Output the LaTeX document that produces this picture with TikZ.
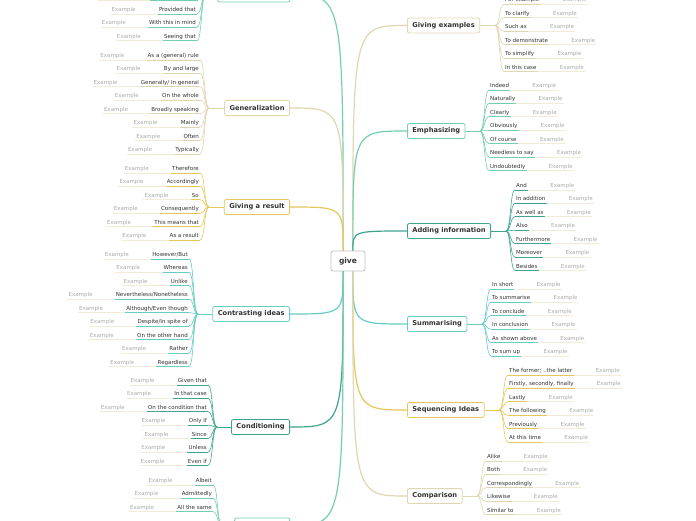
\documentclass[tikz,border=0pt]{standalone}
\usepackage{fontspec}
\setmainfont{DejaVu Sans}

\definecolor{sand}{HTML}{E0D6B2}
\definecolor{gold}{HTML}{E6C85A}
\definecolor{aqua}{HTML}{66CCC6}
\definecolor{sea}{HTML}{3FA38F}
\definecolor{mint}{HTML}{74CFAE}
\definecolor{beige}{HTML}{F2EBD8}
\definecolor{ink}{HTML}{333333}
\definecolor{hint}{HTML}{ABABAB}

% items hanging left of a branch: name, colour, right edge, first y, list
\newcommand{\leftitems}[5]{%
	\coordinate (#1-s) at (#3+9,0);
	\coordinate (#1-j) at (#1.west -| #1-s);
	\draw[twig, #2] (#1.west) -- (#1-j);
	\foreach \txt [count=\i] in {#5} {
		\node[item, anchor=east] (#1-\i) at (#3, #4+13.45*\i-13.45) {\txt};
		\node[example, anchor=east] (#1-\i-x) at ([xshift=-21pt]#1-\i.west) {Example};
		\draw[under, beige] (#1-\i.south west) -- (#1-\i-x.south west);
		\draw[under, #2] (#1-\i.south east) -- (#1-\i.south west);
		\draw[twig, #2] (#1-j) .. controls +(-5,0) and +(5,0) .. (#1-\i.south east);
	}}
% items hanging right of a branch: name, colour, left edge, first y, list
\newcommand{\rightitems}[5]{%
	\coordinate (#1-s) at (#3-9,0);
	\coordinate (#1-j) at (#1.east -| #1-s);
	\draw[twig, #2] (#1.east) -- (#1-j);
	\foreach \txt [count=\i] in {#5} {
		\node[item, anchor=west] (#1-\i) at (#3, #4+13.45*\i-13.45) {\txt};
		\node[example, anchor=west] (#1-\i-x) at ([xshift=21pt]#1-\i.east) {Example};
		\draw[under, beige] (#1-\i.south east) -- (#1-\i-x.south east);
		\draw[under, #2] (#1-\i.south west) -- (#1-\i.south east);
		\draw[twig, #2] (#1-j) .. controls +(5,0) and +(-5,0) .. (#1-\i.south west);
	}}

\begin{document}
\begin{tikzpicture}[x=1pt, y=-1pt,
	item/.style={font=\fontsize{5.5}{6}\selectfont, text=ink, inner xsep=1pt, inner ysep=1pt, text height=4pt, text depth=1.2pt},
	example/.style={item, text=hint},
	branch/.style={draw, line width=0.8pt, fill=white, rounded corners=2pt, minimum height=15pt, inner xsep=5pt, inner ysep=0pt, font=\fontsize{6.7}{8}\selectfont\bfseries, text=ink},
	trunk/.style={line width=1.2pt},
	twig/.style={line width=0.6pt},
	under/.style={line width=0.6pt}]
	\fill[white] (0,0) rectangle (696,520);
	\useasboundingbox (0,0) rectangle (696,520);
	\node[draw=black!25, line width=0.8pt, fill=white, rounded corners=2pt, minimum width=34pt, minimum height=20pt, inner sep=0pt, font=\fontsize{7.5}{9}\selectfont\bfseries, text=ink] (give) at (348,261) {give};
	% left side
	\node[branch, draw=mint, minimum width=72pt, anchor=east] (top) at (290,-5.5) {};
	\node[branch, draw=sand, anchor=east] (gen) at (290,108) {Generalization};
	\node[branch, draw=gold, anchor=east] (res) at (290,207) {Giving a result};
	\node[branch, draw=aqua, anchor=east] (con) at (290,314) {Contrasting ideas};
	\node[branch, draw=sea, anchor=east] (cond) at (290,427) {Conditioning};
	\node[branch, draw=mint, minimum width=55pt, anchor=east] (adm) at (290,525.5) {};
	% right side
	\node[branch, draw=sand, anchor=west] (exa) at (407,25.5) {Giving examples};
	\node[branch, draw=mint, anchor=west] (emp) at (407,131) {Emphasizing};
	\node[branch, draw=sea, anchor=west] (add) at (407,231) {Adding information};
	\node[branch, draw=aqua, anchor=west] (sum) at (407,324) {Summarising};
	\node[branch, draw=gold, anchor=west] (seq) at (407,410) {Sequencing Ideas};
	\node[branch, draw=sand, anchor=west] (cmp) at (407,496) {Comparison};
	% trunks
	\draw[trunk, mint] (give.115) .. controls (give.115 |- top.east) .. (top.east);
	\draw[trunk, sand] (give.115) .. controls (give.115 |- gen.east) .. (gen.east);
	\draw[trunk, gold] (give.115) .. controls (give.115 |- res.east) .. (res.east);
	\draw[trunk, aqua] (give.245) .. controls (give.245 |- con.east) .. (con.east);
	\draw[trunk, sea] (give.245) .. controls (give.245 |- cond.east) .. (cond.east);
	\draw[trunk, mint] (give.245) .. controls (give.245 |- adm.east) .. (adm.east);
	\draw[trunk, sand] (give.65) .. controls (give.65 |- exa.west) .. (exa.west);
	\draw[trunk, mint] (give.65) .. controls (give.65 |- emp.west) .. (emp.west);
	\draw[trunk, sea] (give.65) .. controls (give.65 |- add.west) .. (add.west);
	\draw[trunk, aqua] (give.295) .. controls (give.295 |- sum.west) .. (sum.west);
	\draw[trunk, gold] (give.295) .. controls (give.295 |- seq.west) .. (seq.west);
	\draw[trunk, sand] (give.295) .. controls (give.295 |- cmp.west) .. (cmp.west);
	% items
	\leftitems{top}{mint}{197}{10}{Provided that, With this in mind, Seeing that}
	\coordinate (top-0) at (198,0);
	\coordinate (top-0m) at (150,0);
	\coordinate (top-0x) at (98,0);
	\draw[under, beige] (top-0x) -- (top-0m);
	\draw[under, mint] (top-0m) -- (top-0);
	\draw[twig, mint] (top-j) .. controls +(-5,0) and +(5,0) .. (top-0);
	\leftitems{gen}{sand}{200}{56}{As a (general) rule, By and large, {Generally/ In general}, On the whole, Broadly speaking, Mainly, Often, Typically}
	\leftitems{res}{gold}{200}{169}{Therefore, Accordingly, So, Consequently, This means that, As a result}
	\leftitems{con}{aqua}{189}{255}{{However/But}, Whereas, Unlike, {Nevertheless/Nonetheless}, {Although/Even though}, {Despite/In spite of}, On the other hand, Rather, Regardless}
	\leftitems{cond}{sea}{208}{381}{Given that, In that case, On the condition that, Only if, Since, Unless, Even if}
	\leftitems{adm}{mint}{213}{481}{Albeit, Admittedly, All the same}
	\rightitems{exa}{sand}{504}{0.5}{For example, To clarify, Such as, To demonstrate, To simplify, In this case}
	\rightitems{emp}{mint}{489}{86}{Indeed, Naturally, Clearly, Obviously, Of course, Needless to say, Undoubtedly}
	\rightitems{add}{sea}{515}{186}{And, In addition, As well as, Also, Furthermore, Moreover, Besides}
	\rightitems{sum}{aqua}{491}{285}{In short, To summarise, To conclude, In conclusion, As shown above, To sum up}
	\rightitems{seq}{gold}{508}{371}{The former; ..the latter, {Firstly, secondly, finally}, Lastly, The following, Previously, At this time}
	\rightitems{cmp}{sand}{486}{457}{Alike, Both, Correspondingly, Likewise, Similar to}
\end{tikzpicture}
\end{document}
